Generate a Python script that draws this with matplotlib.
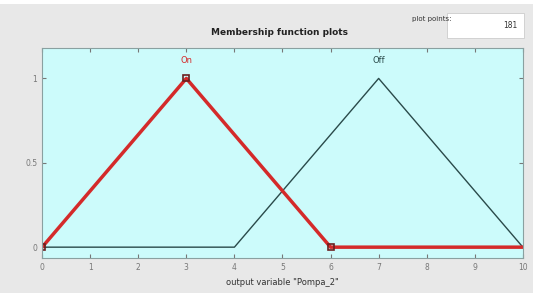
import numpy as np
import matplotlib.pyplot as plt
from matplotlib.patches import Rectangle

# membership functions of output "Pompa_2"
on_x = [0, 3, 6, 10]
on_y = [0, 1, 0, 0]
off_x = [0, 4, 7, 10]
off_y = [0, 0, 1, 0]
mf_names = ["On", "Off"]
mf_peaks = [3, 7]
x_ticks = list(range(0, 11))
y_ticks = [0, 0.5, 1]
plot_points = "181"

fig = plt.figure(figsize=(5.33, 2.93), dpi=100)
fig.patch.set_facecolor("#e8e8e8")

# top white strip like the window border
fig.patches.append(Rectangle((0, 0.985), 1, 0.015, transform=fig.transFigure,
                             facecolor="white", edgecolor="none"))

ax = fig.add_axes([0.079, 0.119, 0.902, 0.717])
ax.set_facecolor("#ccfbfb")

ax.plot(off_x, off_y, color="#2a4a4a", lw=1.0)
ax.plot(on_x, on_y, color="#d42a2a", lw=2.5)
ax.plot([on_x[0], on_x[1], on_x[2]], [on_y[0], on_y[1], on_y[2]], "s",
        ms=5, mfc="none", mec="#6a2020", mew=1.2)

ax.text(mf_peaks[0], 1.08, mf_names[0], color="#d42a2a", ha="center", va="bottom", fontsize=6)
ax.text(mf_peaks[1], 1.08, mf_names[1], color="#2a4a4a", ha="center", va="bottom", fontsize=6)

ax.set_xlim(0, 10)
ax.set_ylim(-0.065, 1.18)
ax.set_xticks(x_ticks)
ax.set_xticklabels([str(t) for t in x_ticks])
ax.set_yticks(y_ticks)
ax.set_yticklabels(["0", "0.5", "1"])
ax.tick_params(labelsize=5.5, colors="#777777", length=3, direction="in",
               top=True, right=True)
for s in ax.spines.values():
    s.set_color("#8aa0a0")
    s.set_linewidth(0.8)

ax.set_xlabel('output variable "Pompa_2"', fontsize=6, color="#333333", labelpad=4)

fig.text(0.525, 0.89, "Membership function plots", ha="center", va="center",
         fontsize=6.5, fontweight="bold", color="#222222")

# plot points box
fig.text(0.81, 0.935, "plot points:", ha="center", va="center", fontsize=5, color="#333333")
fig.patches.append(Rectangle((0.838, 0.872), 0.145, 0.085, transform=fig.transFigure,
                             facecolor="white", edgecolor="#cccccc", lw=0.6))
fig.text(0.97, 0.912, plot_points, ha="right", va="center", fontsize=5.5, color="#333333")

fig.savefig("out.png", dpi=100, facecolor=fig.get_facecolor())
